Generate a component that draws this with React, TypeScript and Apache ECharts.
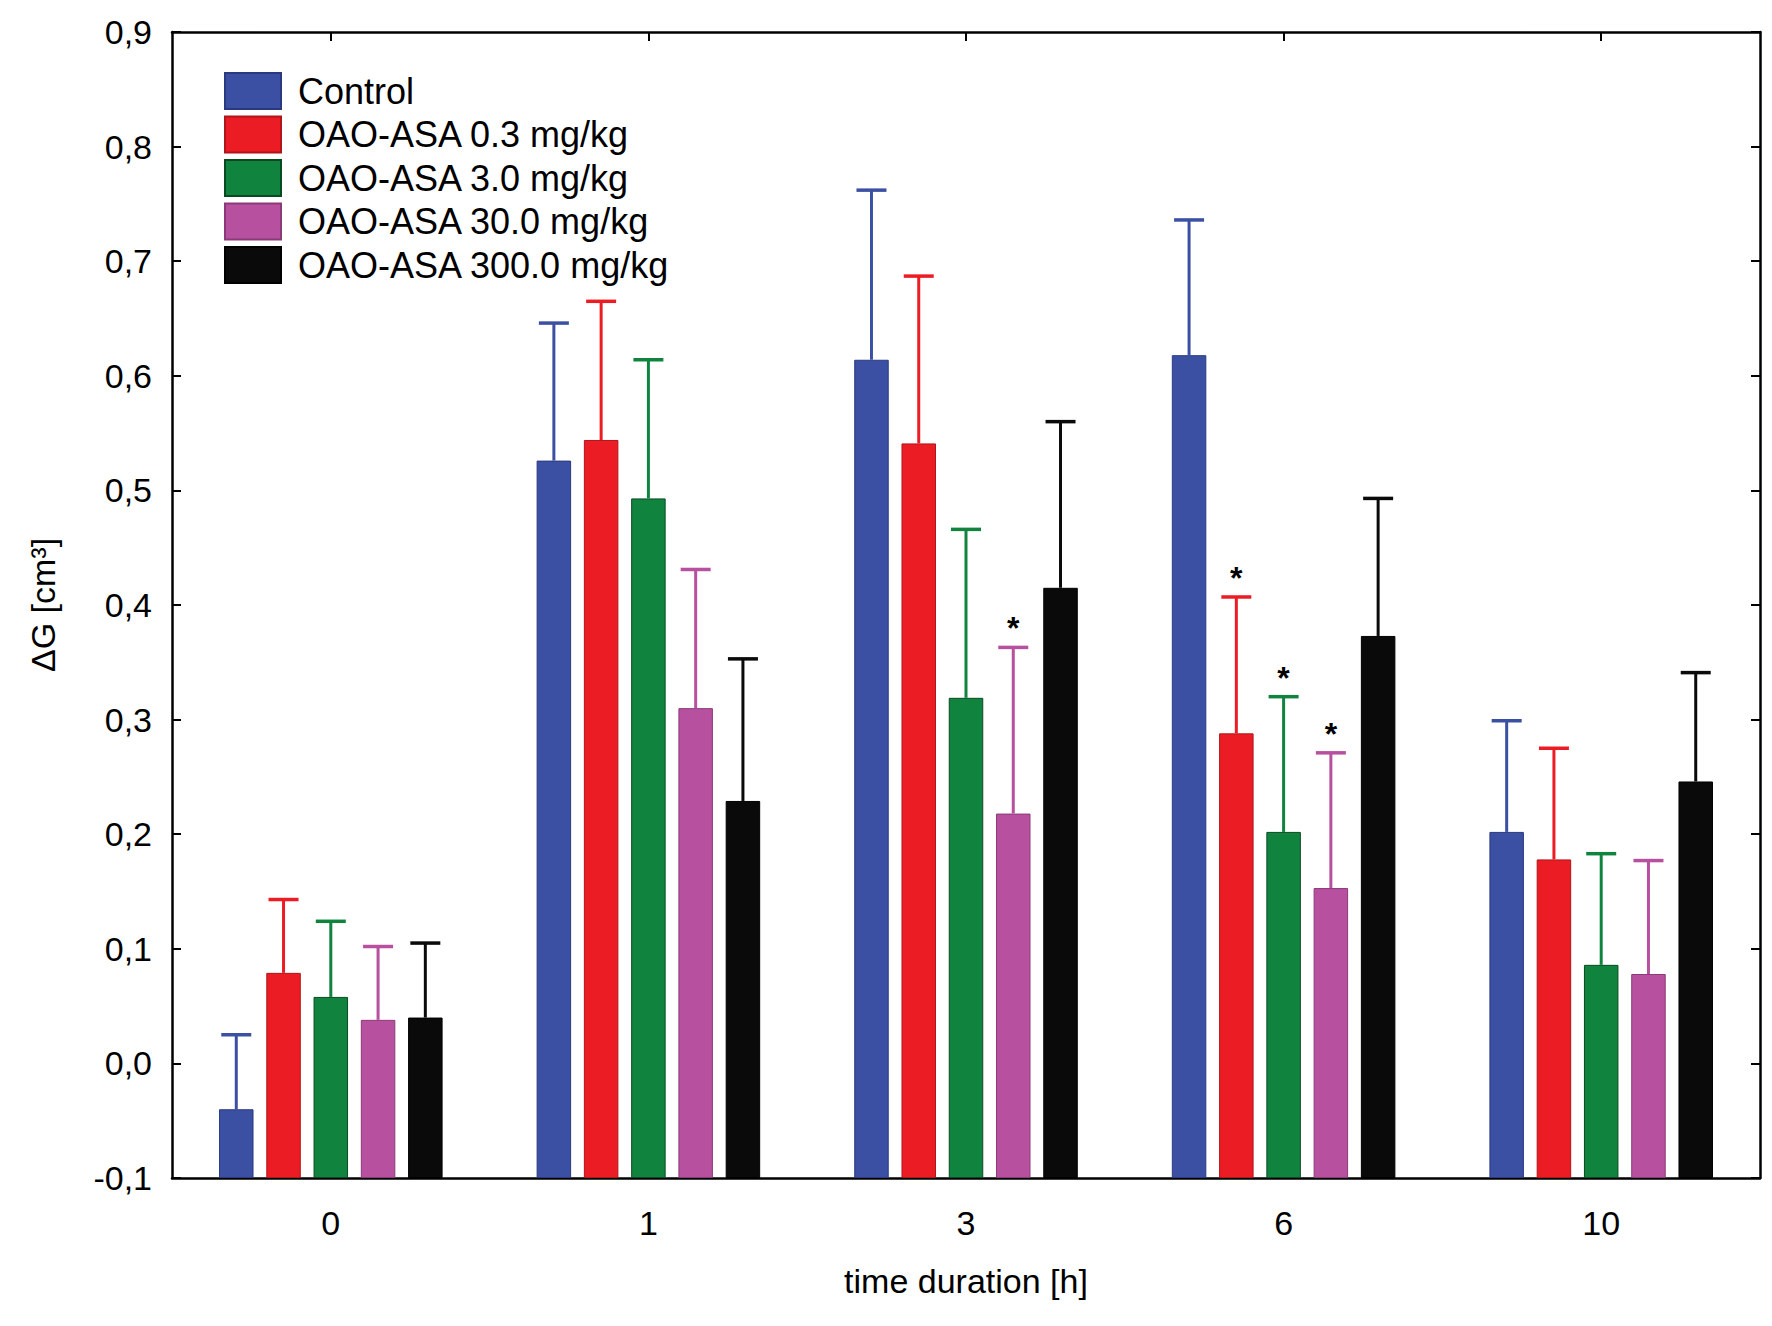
import React, { useEffect, useRef } from "react";
import * as echarts from "echarts";

const categories = ["0", "1", "3", "6", "10"];
const seriesNames = [
  "Control",
  "OAO-ASA 0.3 mg/kg",
  "OAO-ASA 3.0 mg/kg",
  "OAO-ASA 30.0 mg/kg",
  "OAO-ASA 300.0 mg/kg",
];
const seriesColors = ["#3B50A2", "#EC1C24", "#10843F", "#B7509F", "#0A0A0A"];
const seriesBorders = ["#2A3A80", "#B0151B", "#0A4A22", "#8A3A78", "#000000"];

// means
const controlMean = [-0.04, 0.526, 0.614, 0.618, 0.202];
const dose03Mean = [0.079, 0.544, 0.541, 0.288, 0.178];
const dose3Mean = [0.058, 0.493, 0.319, 0.202, 0.086];
const dose30Mean = [0.038, 0.31, 0.218, 0.153, 0.078];
const dose300Mean = [0.04, 0.229, 0.415, 0.373, 0.246];

// upper ends of error bars
const controlUpper = [0.025, 0.646, 0.762, 0.736, 0.299];
const dose03Upper = [0.143, 0.665, 0.687, 0.407, 0.275];
const dose3Upper = [0.124, 0.614, 0.466, 0.32, 0.183];
const dose30Upper = [0.102, 0.431, 0.363, 0.271, 0.177];
const dose300Upper = [0.105, 0.353, 0.56, 0.493, 0.341];

// significance markers (*)
const controlStar = [0, 0, 0, 0, 0];
const dose03Star = [0, 0, 0, 1, 0];
const dose3Star = [0, 0, 0, 1, 0];
const dose30Star = [0, 0, 1, 1, 0];
const dose300Star = [0, 0, 0, 0, 0];

const means = [controlMean, dose03Mean, dose3Mean, dose30Mean, dose300Mean];
const uppers = [controlUpper, dose03Upper, dose3Upper, dose30Upper, dose300Upper];
const stars = [controlStar, dose03Star, dose3Star, dose30Star, dose300Star];

const FONT = "'Liberation Sans', Arial, sans-serif";
const BAR_W = 34.5;
const BAR_GAP_PCT = 37;
const PITCH = BAR_W * (1 + BAR_GAP_PCT / 100);
const CAP_W = 30;

export default function App() {
  const ref = useRef<HTMLDivElement>(null);

  useEffect(() => {
    if (!ref.current) return;
    const chart = echarts.init(ref.current, undefined, { renderer: "svg" });

    const barSeries = seriesNames.map((name, i) => ({
      name,
      type: "bar",
      xAxisIndex: 0,
      yAxisIndex: 0,
      barWidth: BAR_W,
      barGap: BAR_GAP_PCT + "%",
      data: means[i],
      itemStyle: {
        color: seriesColors[i],
        borderColor: seriesBorders[i],
        borderWidth: 1,
      },
      z: 2,
    }));

    const errSeries = seriesNames.map((name, i) => ({
      name: "err-" + name,
      type: "custom",
      xAxisIndex: 0,
      yAxisIndex: 0,
      z: 3,
      data: categories.map((_, k) => [k, means[i][k], uppers[i][k], stars[i][k]]),
      renderItem: (params: any, api: any) => {
        const k = api.value(0);
        const m = api.value(1);
        const u = api.value(2);
        const s = api.value(3);
        const pBase = api.coord([k, m]);
        const pTop = api.coord([k, u]);
        const x = pBase[0] + (i - 2) * PITCH;
        const color = seriesColors[i];
        const children: any[] = [
          {
            type: "line",
            shape: { x1: x, y1: pBase[1], x2: x, y2: pTop[1] },
            style: { stroke: color, lineWidth: 3 },
          },
          {
            type: "line",
            shape: { x1: x - CAP_W / 2, y1: pTop[1], x2: x + CAP_W / 2, y2: pTop[1] },
            style: { stroke: color, lineWidth: 3.5 },
          },
        ];
        if (s) {
          children.push({
            type: "text",
            style: {
              text: "*",
              x: x,
              y: pTop[1] - 3,
              align: "center",
              verticalAlign: "bottom",
              fontSize: 32,
              fontWeight: "bold",
              fontFamily: FONT,
              fill: "#000",
            },
          });
        }
        return { type: "group", children };
      },
    }));

    const axisLineStyle = { color: "#000", width: 2.5 };
    const tickStyle = { color: "#000", width: 2 };

    const option: any = {
      animation: false,
      backgroundColor: "#ffffff",
      textStyle: { fontFamily: FONT },
      grid: { left: 172, right: 12, top: 32, bottom: 148, containLabel: false },
      legend: {
        data: seriesNames,
        orient: "vertical",
        left: 224,
        top: 72,
        padding: 0,
        itemWidth: 56,
        itemHeight: 36,
        itemGap: 5.5,
        icon: "rect",
        selectedMode: false,
        textStyle: {
          fontSize: 36,
          fontFamily: FONT,
          color: "#000",
          lineHeight: 36,
          padding: [0, 0, 0, 12],
        },
      },
      xAxis: [
        {
          type: "category",
          position: "bottom",
          data: categories,
          name: "time duration [h]",
          nameLocation: "middle",
          nameGap: 86,
          nameTextStyle: { fontSize: 34, color: "#000", fontFamily: FONT },
          axisLine: { show: true, onZero: false, lineStyle: axisLineStyle },
          axisTick: { show: true, inside: true, alignWithLabel: true, length: 9, lineStyle: tickStyle },
          axisLabel: { fontSize: 34, color: "#000", margin: 28, fontFamily: FONT },
          splitLine: { show: false },
        },
        {
          type: "category",
          position: "top",
          data: categories,
          axisLine: { show: true, onZero: false, lineStyle: axisLineStyle },
          axisTick: { show: true, inside: true, alignWithLabel: true, length: 9, lineStyle: tickStyle },
          axisLabel: { show: false },
          splitLine: { show: false },
        },
      ],
      yAxis: [
        {
          type: "value",
          position: "left",
          min: -0.1,
          max: 0.9,
          interval: 0.1,
          startValue: -0.1,
          name: "ΔG [cm³]",
          nameLocation: "middle",
          nameGap: 112,
          nameRotate: 90,
          nameTextStyle: { fontSize: 34, color: "#000", fontFamily: FONT },
          axisLine: { show: true, onZero: false, lineStyle: axisLineStyle },
          axisTick: { show: true, inside: true, length: 9, lineStyle: tickStyle },
          axisLabel: {
            fontSize: 34,
            color: "#000",
            margin: 20,
            fontFamily: FONT,
            formatter: (v: number) => v.toFixed(1).replace(".", ","),
          },
          splitLine: { show: false },
        },
        {
          type: "value",
          position: "right",
          min: -0.1,
          max: 0.9,
          interval: 0.1,
          axisLine: { show: true, onZero: false, lineStyle: axisLineStyle },
          axisTick: { show: true, inside: true, length: 9, lineStyle: tickStyle },
          axisLabel: { show: false },
          splitLine: { show: false },
        },
      ],
      series: [...barSeries, ...errSeries],
    };

    chart.setOption(option);
    return () => chart.dispose();
  }, []);

  return (
    <div
      ref={ref}
      style={{ position: "fixed", left: 0, top: 0, width: 1772, height: 1326, background: "#fff" }}
    />
  );
}
